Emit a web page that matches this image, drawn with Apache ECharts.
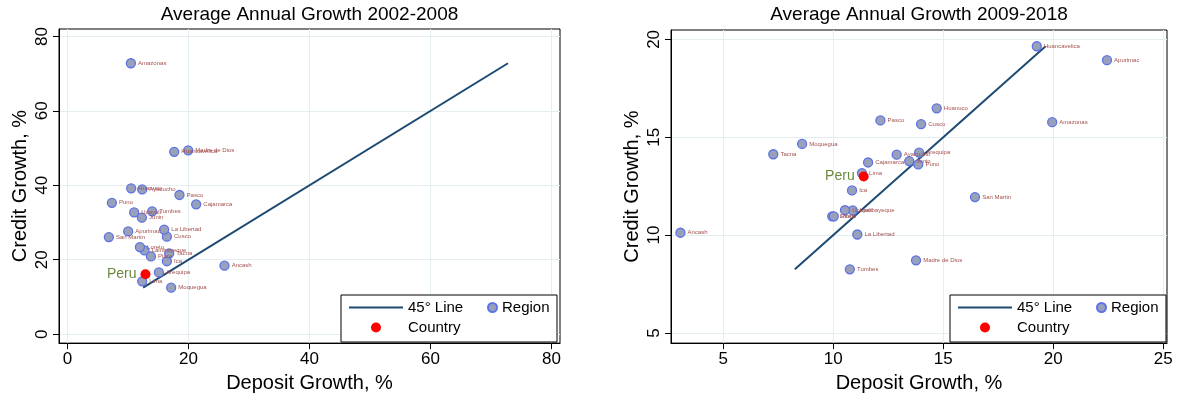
<!DOCTYPE html>
<html>
<head>
<meta charset="utf-8">
<title>Average Annual Growth: Deposits vs Credit by Region</title>
<script src="https://cdn.jsdelivr.net/npm/echarts@6/dist/echarts.min.js"></script>
<style>
  html, body { margin: 0; padding: 0; background: #fff; }
  #chart { width: 1182px; height: 398px; }
</style>
</head>
<body>
<div id="chart"></div>
<script>
// Regional deposit and credit growth (average annual, %)
const regions = [
  'Amazonas', 'Ancash', 'Apurimac', 'Arequipa', 'Ayacucho', 'Cajamarca',
  'Cusco', 'Huancavelica', 'Huanuco', 'Ica', 'Junin', 'La Libertad',
  'Lambayeque', 'Lima', 'Loreto', 'Madre de Dios', 'Moquegua', 'Pasco',
  'Piura', 'Puno', 'San Martin', 'Tacna', 'Tumbes', 'Ucayali'
];

// 2002-2008
const deposit0208 = [10.48, 25.95, 10.03, 15.11, 12.35, 21.27, 16.43, 17.64, 10.53, 16.43, 12.30, 15.98,
                     12.73, 12.35, 11.97, 19.95, 17.14, 18.51, 13.79, 7.34, 6.84, 16.81, 14.00, 11.02];
const credit0208  = [72.8, 18.4, 27.6, 16.6, 38.9, 34.9, 26.2, 49.0, 39.2, 19.6, 31.3, 28.1,
                     22.5, 14.2, 23.4, 49.4, 12.5, 37.4, 20.9, 35.3, 26.1, 21.7, 33.0, 32.7];
const country0208 = [12.89, 16.1];

// 2009-2018
const deposit0918 = [19.95, 3.05, 22.44, 13.90, 12.88, 11.58, 13.99, 19.25, 14.70, 10.85, 13.45, 11.09,
                     10.88, 11.30, 9.95, 13.76, 8.58, 12.14, 10.02, 13.86, 16.44, 7.27, 10.75, 10.53];
const credit0918  = [15.77, 10.12, 18.94, 14.21, 14.11, 13.71, 15.67, 19.65, 16.48, 12.28, 13.78, 10.03,
                     11.26, 13.17, 10.96, 8.71, 14.66, 15.86, 10.96, 13.61, 11.94, 14.13, 8.25, 11.27];
const country0918 = [11.38, 12.99];

const countryName = 'Peru';
const titles = ['Average Annual Growth 2002-2008', 'Average Annual Growth 2009-2018'];
const xTicks = [[0, 20, 40, 60, 80], [5, 10, 15, 20, 25]];
const yTicks = [[0, 20, 40, 60, 80], [5, 10, 15, 20]];

const FONT = "'Liberation Sans', Arial, sans-serif";
const FRAME = [
  { left: 59, right: 560, top: 29, bottom: 348 },
  { left: 671, right: 1167, top: 30, bottom: 348 }
];
const RANGE = [
  { xMin: -1.4, xMax: 81.4, yMin: -2.4, yMax: 82.0 },
  { xMin: 2.62, xMax: 25.17, yMin: 4.48, yMax: 20.48 }
];

function regionPoints(dep, cred) {
  return regions.map((r, i) => ({ name: r, value: [dep[i], cred[i]] }));
}
// 45-degree reference line spanning the range of credit growth
function diagonal(cred) {
  const lo = Math.min(...cred), hi = Math.max(...cred);
  return [[lo, lo], [hi, hi]];
}

const chart = echarts.init(document.getElementById('chart'), null, { renderer: 'canvas' });

const grids = FRAME.map(f => ({
  left: f.left, top: f.top, width: f.right - f.left, height: f.bottom - f.top,
  show: true, borderColor: '#000', borderWidth: 1, backgroundColor: '#fff', containLabel: false
}));

const xAxes = [0, 1].map(i => ({
  type: 'value', gridIndex: i, min: RANGE[i].xMin, max: RANGE[i].xMax,
  name: 'Deposit Growth, %', nameLocation: 'middle', nameGap: 24,
  nameTextStyle: { fontSize: 20, color: '#000', fontFamily: FONT },
  axisLine: { show: true, onZero: false, lineStyle: { color: '#000', width: 1 } },
  axisTick: { show: true, customValues: xTicks[i], length: 6, lineStyle: { color: '#000' } },
  axisLabel: { customValues: xTicks[i], fontSize: 17, color: '#000', margin: 8, fontFamily: FONT },
  splitLine: { show: true, lineStyle: { color: '#e4eef1', width: 1 } }
}));

const yAxes = [0, 1].map(i => ({
  type: 'value', gridIndex: i, min: RANGE[i].yMin, max: RANGE[i].yMax,
  name: 'Credit Growth, %', nameLocation: 'middle', nameGap: 29, nameRotate: 90,
  nameTextStyle: { fontSize: 20, color: '#000', fontFamily: FONT },
  axisLine: { show: true, onZero: false, lineStyle: { color: '#000', width: 1 } },
  axisTick: { show: true, customValues: yTicks[i], length: 6, lineStyle: { color: '#000' } },
  axisLabel: { customValues: yTicks[i], fontSize: 17, color: '#000', margin: 8, rotate: 90, fontFamily: FONT },
  splitLine: { show: true, lineStyle: { color: '#e4eef1', width: 1 } }
}));

const regionStyle = { color: '#98a1b9', borderColor: '#5d72e6', borderWidth: 1.3, opacity: 1 };
const regionLabel = {
  show: true, position: 'right', distance: 2, formatter: '{b}',
  fontSize: 6, color: '#a3504f', fontFamily: FONT
};
const countryLabel = {
  show: true, position: 'left', distance: 4, formatter: '{b}',
  fontSize: 14, color: '#6b8a3e', fontFamily: FONT
};

const series = [];
[[deposit0208, credit0208, country0208], [deposit0918, credit0918, country0918]].forEach((set, i) => {
  series.push({
    name: '45° Line', type: 'line', xAxisIndex: i, yAxisIndex: i,
    data: diagonal(set[1]), symbol: 'none', silent: true,
    lineStyle: { color: '#1d4a73', width: 2 }, itemStyle: { color: '#1d4a73' }, z: 2
  });
  series.push({
    name: 'Region', type: 'scatter', xAxisIndex: i, yAxisIndex: i,
    data: regionPoints(set[0], set[1]), symbolSize: 9,
    itemStyle: regionStyle, label: regionLabel, z: 3
  });
  series.push({
    name: 'Country', type: 'scatter', xAxisIndex: i, yAxisIndex: i,
    data: [{ name: countryName, value: set[2] }], symbolSize: 10,
    itemStyle: { color: '#ff0000', opacity: 1 }, label: countryLabel, z: 4
  });
});

// Legend boxes sit in the lower-right corner of each plot
const LEG = [{ x: 341, y: 295 }, { x: 950, y: 295 }];
const legendText = { fontSize: 15, color: '#000', fontFamily: FONT };
const legends = [];
LEG.forEach(p => {
  legends.push({
    orient: 'vertical', left: p.x + 8, top: p.y + 5, padding: 0,
    itemWidth: 54, itemHeight: 10, itemGap: 5, z: 60,
    data: [
      { name: '45° Line', icon: 'path://M0 0H54V2H0Z', itemStyle: { color: '#1d4a73' } },
      { name: 'Country' }
    ],
    textStyle: legendText, selectedMode: false
  });
  legends.push({
    orient: 'vertical', left: p.x + 146, top: p.y + 5, padding: 0,
    itemWidth: 9, itemHeight: 9, z: 60,
    data: ['Region'], textStyle: legendText, selectedMode: false
  });
});

const titleOpts = titles.map((t, i) => ({
  text: t, left: (FRAME[i].left + FRAME[i].right) / 2, top: 5, padding: 0, textAlign: 'center',
  textStyle: { fontSize: 19, fontWeight: 'normal', color: '#000', fontFamily: FONT }
}));

chart.setOption({
  animation: false,
  backgroundColor: '#fff',
  textStyle: { fontFamily: FONT },
  title: titleOpts,
  grid: grids,
  xAxis: xAxes,
  yAxis: yAxes,
  legend: legends,
  series: series,
  graphic: LEG.map(p => ({
    type: 'rect', z: 50, silent: true,
    shape: { x: p.x, y: p.y, width: 216, height: 47 },
    style: { fill: '#fff', stroke: '#000', lineWidth: 1 }
  }))
});
</script>
</body>
</html>
